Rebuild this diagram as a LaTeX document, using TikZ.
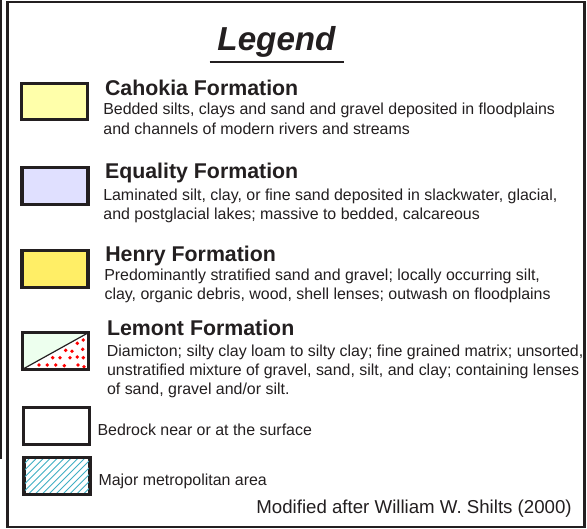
\documentclass[tikz,border=0pt]{standalone}
\usepackage{fontspec}
\setmainfont{Liberation Sans}
\definecolor{ink}{HTML}{231F20}
\definecolor{cahokia}{HTML}{FFFFAA}
\definecolor{equality}{HTML}{E0E0FF}
\definecolor{henry}{HTML}{FFEE66}
\definecolor{lemont}{HTML}{EDFFEE}
\definecolor{hatchc}{HTML}{3FAFC4}
\tikzset{
  swatch/.style={draw=ink,line width=2.3pt,inner sep=0pt,outer sep=0pt,minimum width=49.5pt,minimum height=27.5pt},
  heading/.style={anchor=base west,inner sep=0pt,text=ink,font=\fontsize{16pt}{18pt}\selectfont\bfseries},
  body/.style={anchor=base west,inner sep=0pt,text=ink,font=\fontsize{11.95pt}{14pt}\selectfont},
  reddot/.style={circle,fill=red,inner sep=0pt,minimum size=2.9pt}
}
\begin{document}
\begin{tikzpicture}[x=0.75pt,y=-0.75pt]
\useasboundingbox (0,0) rectangle (587,529);
\fill[white] (0,0) rectangle (587,529);
\draw[ink,line width=1pt] (1,0) -- (1,459);
\draw[ink,line width=2.2pt] (7.5,2) rectangle (584.5,527);
% title
\node[anchor=base,inner sep=0pt,text=ink,font=\fontsize{24.9pt}{28pt}\selectfont\bfseries\itshape] (title) at (276.5,50) {Legend};
\draw[ink,line width=1.6pt] (209.5,62) -- (344,62);
% Cahokia
\node[swatch,fill=cahokia] (s1) at (54.5,101.5) {};
\node[heading] (h1) at (104.8,95.6) {Cahokia Formation};
\node[body] (b1a) at (103,114.3) {Bedded silts, clays and sand and gravel deposited in floodplains};
\node[body] (b1b) at (103.2,134) {and channels of modern rivers and streams};
% Equality
\node[swatch,fill=equality] (s2) at (55,186) {};
\node[heading] (h2) at (104.8,178.4) {Equality Formation};
\node[body] (b2a) at (103,200) {Laminated silt, clay, or fine sand deposited in slackwater, glacial,};
\node[body] (b2b) at (103.2,219.5) {and postglacial lakes; massive to bedded, calcareous};
% Henry
\node[swatch,fill=henry] (s3) at (55,269) {};
\node[heading] (h3) at (105,261.4) {Henry Formation};
\node[body] (b3a) at (104,280) {Predominantly stratified sand and gravel; locally occurring silt,};
\node[body] (b3b) at (104.3,299.3) {clay, organic debris, wood, shell lenses; outwash on floodplains};
% Lemont
\node[swatch,fill=lemont] (s4) at (55.8,350.8) {};
\node[heading] (h4) at (106.8,335.5) {Lemont Formation};
\node[body] (b4a) at (106.6,356.5) {Diamicton; silty clay loam to silty clay; fine grained matrix; unsorted,};
\node[body] (b4b) at (106.8,375) {unstratified mixture of gravel, sand, silt, and clay; containing lenses};
\node[body] (b4c) at (106.8,394) {of sand, gravel and/or silt.};
\fill[white] (s4.south west) -- (s4.north east) -- (s4.south east) -- cycle;
\draw[ink,line width=0.9pt] (s4.south west) -- (s4.north east);
\foreach \px/\py in {39/365,47.3/365,55.7/365,64.3/365.7,78/365,84/366.7,52.7/357.7,60/357.7,70/357.7,77.3/357,83.3/357.7,65.7/350.3,72/351.3,82.7/349.3,77.3/343.3,83.3/340}
  \node[reddot] at (\px,\py) {};
\draw[ink,line width=2.3pt] (s4.south west) rectangle (s4.north east);
% Bedrock
\node[swatch,fill=white] (s5) at (56.5,426) {};
\node[body] (b5) at (97.3,435) {Bedrock near or at the surface};
% Metro
\node[swatch] (s6) at (57,476) {};
\begin{scope}
\clip (s6.south west) rectangle (s6.north east);
\foreach \k in {0,...,20}
  \draw[hatchc,line width=0.65pt] (24+\k*6.9-38,495) -- (24+\k*6.9,457);
\end{scope}
\draw[ink,line width=1.8pt] (s6.south west) rectangle (s6.north east);
\node[body] (b6) at (98.3,485) {Major metropolitan area};
% credit
\node[anchor=base east,inner sep=0pt,text=ink,font=\fontsize{14pt}{16pt}\selectfont] (credit) at (572,513.5) {Modified after William W. Shilts (2000)};
\end{tikzpicture}
\end{document}
